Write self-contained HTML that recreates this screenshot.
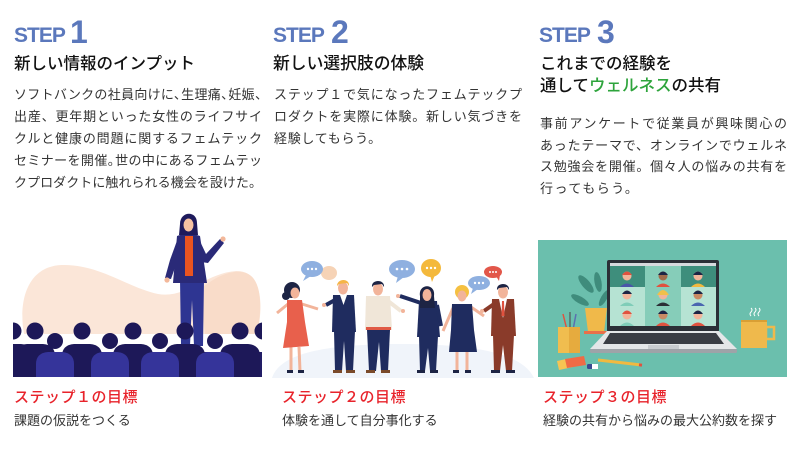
<!DOCTYPE html>
<html><head><meta charset="utf-8">
<style>
html,body{margin:0;padding:0;background:#fff;}
body{width:800px;height:457px;position:relative;overflow:hidden;font-family:"Liberation Sans","Noto Sans CJK JP",sans-serif;}
.a{position:absolute;white-space:nowrap;}
.step{color:#5b78bc;font-weight:bold;line-height:1;font-family:"Liberation Sans",sans-serif;}
.st{font-size:21px;letter-spacing:-1px;}
.num{font-size:32px;}
.h{font-size:16.5px;line-height:22px;color:#111;font-weight:500;}
.b{font-size:13px;line-height:22px;color:#333;}
.b div{white-space:nowrap;}
.j{text-align:justify;text-align-last:justify;}
.c{margin-right:-6px}
.r{font-size:15px;color:#e8232b;line-height:20px;letter-spacing:0.5px;font-weight:500;}
.s{font-size:13px;color:#333;line-height:20px;}
.g{color:#2ea43c}
</style></head>
<body>
<svg width="800" height="457" style="position:absolute;left:0;top:0">
<defs><clipPath id="c1"><rect x="13" y="200" width="249" height="177"/></clipPath></defs>
<!-- IMAGE 1 -->
<path d="M24 334 C18 300 28 266 62 265 C100 264 128 288 158 294 C186 299 206 273 236 271 C262 270 264 305 257 334 Z" fill="#fbe6d8"/>
<path d="M200 290 C215 276 230 271 240 272 C262 272 263 305 257 334 L205 334 Z" fill="#f9dcc9"/>
<!-- speaker -->
<path d="M180 279 L204 279 L203 346 L194 346 L192 300 L190 346 L181 346 Z" fill="#2e3592"/>
<path d="M177 236 Q188 232 200 236 L207 283 L173 283 Z" fill="#2a2a78"/>
<rect x="185" y="236" width="8" height="40" fill="#ea5420"/>
<path d="M198 237 L206 254 L220 239 L224 243 L208 263 L201 262 Z" fill="#2a2a78"/>
<circle cx="223" cy="239" r="2.6" fill="#f3b89a"/>
<path d="M178 238 L170 260 L165 278 L171 279 L177 262 L183 245 Z" fill="#2a2a78"/>
<circle cx="167" cy="280" r="2.6" fill="#f3b89a"/>
<path d="M180 224 C180 211 197 210 197 223 L198 235 L179 235 Z" fill="#1e1a5c"/>
<ellipse cx="188.5" cy="225" rx="5" ry="6.5" fill="#f6c2a2"/>
<!-- crowd -->
<g clip-path="url(#c1)">
<rect x="13" y="352" width="249" height="25" fill="#221d66"/>
<g fill="#1d1858">
<circle cx="13" cy="331" r="8.5"/><path d="M-7 377 L-7 356 Q-7 345 5 344 L21 344 Q33 345 33 356 L33 377 Z"/>
<circle cx="35" cy="331" r="8.5"/><path d="M15 377 L15 356 Q15 345 27 344 L43 344 Q55 345 55 356 L55 377 Z"/>
<circle cx="82" cy="331" r="8.5"/><path d="M62 377 L62 356 Q62 345 74 344 L90 344 Q102 345 102 356 L102 377 Z"/>
<circle cx="133" cy="331" r="8.5"/><path d="M113 377 L113 356 Q113 345 125 344 L141 344 Q153 345 153 356 L153 377 Z"/>
<circle cx="185" cy="331" r="8.5"/><path d="M165 377 L165 356 Q165 345 177 344 L193 344 Q205 345 205 356 L205 377 Z"/>
<circle cx="240" cy="331" r="8.5"/><path d="M220 377 L220 356 Q220 345 232 344 L248 344 Q260 345 260 356 L260 377 Z"/>
<circle cx="263" cy="331" r="8.5"/>
</g>
<g fill="#1d1858">
<circle cx="55" cy="341" r="8"/><circle cx="110" cy="341" r="8"/><circle cx="160" cy="341" r="8"/><circle cx="215" cy="341" r="8"/>
</g>
<g fill="#35349a">
<path d="M36 377 L36 364 Q36 353 48 352 L62 352 Q74 353 74 364 L74 377 Z"/>
<path d="M91 377 L91 364 Q91 353 103 352 L117 352 Q129 353 129 364 L129 377 Z"/>
<path d="M141 377 L141 364 Q141 353 153 352 L167 352 Q179 353 179 364 L179 377 Z"/>
<path d="M196 377 L196 364 Q196 353 208 352 L222 352 Q234 353 234 364 L234 377 Z"/>
</g>
</g>

<!-- IMAGE 2 -->
<path d="M272 378 C280 352 330 344 400 344 C470 344 522 352 534 378 Z" fill="#f0f4fa"/>
<g>
<ellipse cx="329" cy="273" rx="8" ry="7" fill="#f6d3b6"/>
<ellipse cx="312" cy="269" rx="11" ry="8" fill="#8fb0e0"/><path d="M306 275 L303 281 L311 276 Z" fill="#8fb0e0"/>
<ellipse cx="402" cy="269" rx="13" ry="9" fill="#8fb0e0"/><path d="M398 276 L396 283 L404 277 Z" fill="#8fb0e0"/>
<ellipse cx="431" cy="268" rx="10" ry="9" fill="#f4b93c"/><path d="M430 275 L432 282 L435 275 Z" fill="#f4b93c"/>
<ellipse cx="493" cy="272" rx="9" ry="6" fill="#e2574a"/><path d="M496 276 L499 281 L500 275 Z" fill="#e2574a"/>
<ellipse cx="479" cy="283" rx="11" ry="7" fill="#8fb0e0"/><path d="M473 288 L471 294 L478 289 Z" fill="#8fb0e0"/>
<g fill="#fff">
<circle cx="308" cy="269" r="1.2"/><circle cx="312" cy="269" r="1.2"/><circle cx="316" cy="269" r="1.2"/>
<circle cx="397" cy="269" r="1.3"/><circle cx="402" cy="269" r="1.3"/><circle cx="407" cy="269" r="1.3"/>
<circle cx="427" cy="268" r="1.2"/><circle cx="431" cy="268" r="1.2"/><circle cx="435" cy="268" r="1.2"/>
<circle cx="490" cy="272" r="1"/><circle cx="493" cy="272" r="1"/><circle cx="496" cy="272" r="1"/>
<circle cx="475" cy="283" r="1.2"/><circle cx="479" cy="283" r="1.2"/><circle cx="483" cy="283" r="1.2"/>
</g>
</g>
<!-- P1 -->
<g>
<line x1="291" y1="347" x2="291" y2="371" stroke="#f2b49a" stroke-width="3"/>
<line x1="299" y1="347" x2="300" y2="371" stroke="#f2b49a" stroke-width="3"/>
<rect x="287" y="370" width="6" height="3" fill="#1d2444"/><rect x="298" y="370" width="6" height="3" fill="#1d2444"/>
<line x1="288" y1="304" x2="277" y2="313" stroke="#f2b49a" stroke-width="3"/>
<line x1="302" y1="304" x2="318" y2="309" stroke="#f2b49a" stroke-width="3"/>
<path d="M287 300 L302 300 L305 322 L309 346 L283 348 L287 322 Z" fill="#e8604c"/>
<circle cx="292" cy="290" r="8" fill="#1d2444"/><circle cx="286" cy="296" r="4" fill="#1d2444"/>
<ellipse cx="295" cy="293" rx="4.5" ry="5.5" fill="#f2b49a"/>
</g>
<!-- P2 -->
<g>
<path d="M334 331 L355 331 L353 371 L346 371 L344 341 L342 371 L335 371 Z" fill="#1f2c5f"/>
<rect x="333" y="370" width="9" height="3" fill="#7a4a2a"/><rect x="346" y="370" width="9" height="3" fill="#7a4a2a"/>
<path d="M333 295 L354 295 L356 332 L332 332 Z" fill="#1f2c5f"/>
<path d="M340 295 L347 295 L343.5 305 Z" fill="#fff"/>
<line x1="335" y1="300" x2="326" y2="305" stroke="#1f2c5f" stroke-width="4"/>
<circle cx="324" cy="305" r="2" fill="#f2b49a"/>
<ellipse cx="343" cy="288" rx="5" ry="6.5" fill="#f2b49a"/>
<path d="M337 286 C337 278 350 278 349 286 L347 283 L339 284 Z" fill="#f5b547"/>
</g>
<!-- P3 -->
<g>
<path d="M367 330 L390 330 L388 371 L381 371 L379 342 L376 371 L369 371 Z" fill="#1f2c5f"/>
<rect x="366" y="370" width="9" height="3" fill="#7a4a2a"/><rect x="381" y="370" width="9" height="3" fill="#7a4a2a"/>
<line x1="388" y1="301" x2="401" y2="311" stroke="#f0e6d8" stroke-width="4"/>
<circle cx="403" cy="311" r="2" fill="#f2b49a"/>
<path d="M366 296 L390 296 L392 330 L365 330 Z" fill="#f0e6d8"/>
<rect x="366" y="327" width="25" height="3" fill="#e05a45"/>
<ellipse cx="378" cy="289" rx="5" ry="6.5" fill="#f2b49a"/>
<path d="M372 287 C371 279 385 279 384 287 L382 284 L374 285 Z" fill="#1d2444"/>
</g>
<!-- P4 -->
<g>
<path d="M419 336 L438 336 L436 371 L430 371 L428 348 L425 371 L420 371 Z" fill="#1f2c5f"/>
<rect x="417" y="370" width="8" height="3" fill="#1d2444"/><rect x="430" y="370" width="8" height="3" fill="#1d2444"/>
<line x1="421" y1="303" x2="400" y2="296" stroke="#1f2c5f" stroke-width="4"/>
<circle cx="398" cy="296" r="2" fill="#f2b49a"/>
<path d="M419 301 L437 301 L440 337 L417 337 Z" fill="#1f2c5f"/>
<line x1="437" y1="305" x2="441" y2="326" stroke="#1f2c5f" stroke-width="4"/>
<path d="M420 296 C418 283 436 283 434 296 L435 308 L420 308 Z" fill="#1d2444"/>
<ellipse cx="427" cy="295" rx="4.5" ry="6" fill="#f2b49a"/>
</g>
<!-- P5 -->
<g>
<line x1="457" y1="351" x2="457" y2="371" stroke="#f2b49a" stroke-width="3"/>
<line x1="467" y1="351" x2="467" y2="371" stroke="#f2b49a" stroke-width="3"/>
<rect x="453" y="370" width="6" height="3" fill="#1d2444"/><rect x="465" y="370" width="6" height="3" fill="#1d2444"/>
<line x1="453" y1="308" x2="443" y2="331" stroke="#f2b49a" stroke-width="3"/>
<line x1="471" y1="307" x2="484" y2="316" stroke="#f2b49a" stroke-width="3"/>
<path d="M452 304 L472 304 L474 330 L477 352 L449 352 L451 330 Z" fill="#1f2c5f"/>
<circle cx="462" cy="292" r="7" fill="#f5c041"/>
<ellipse cx="462" cy="296" rx="4.5" ry="5.5" fill="#f2b49a"/>
</g>
<!-- P6 -->
<g>
<path d="M493 335 L514 335 L512 371 L506 371 L503 345 L500 371 L494 371 Z" fill="#8a3b2a"/>
<rect x="491" y="370" width="9" height="3" fill="#1d2444"/><rect x="506" y="370" width="9" height="3" fill="#1d2444"/>
<path d="M492 299 L514 299 L516 336 L491 336 Z" fill="#8a3b2a"/>
<path d="M499 299 L507 299 L503 318 Z" fill="#fff"/>
<path d="M502 301 L504 301 L504.5 316 L501.5 316 Z" fill="#e0523f"/>
<line x1="494" y1="304" x2="484" y2="311" stroke="#8a3b2a" stroke-width="4"/>
<circle cx="482" cy="311" r="2" fill="#f2b49a"/>
<ellipse cx="503" cy="292" rx="5" ry="6.5" fill="#f2b49a"/>
<path d="M497 290 C496 282 510 282 509 290 L507 287 L499 288 Z" fill="#1d2444"/>
</g>

<!-- IMAGE 3 -->
<rect x="538" y="240" width="249" height="137" fill="#6bbfad"/>
<g fill="#3f8c7c">
<ellipse cx="586" cy="284" rx="4" ry="11" transform="rotate(-40 586 284)"/>
<ellipse cx="580" cy="300" rx="3.5" ry="10" transform="rotate(-60 580 300)"/>
<ellipse cx="598" cy="282" rx="3.5" ry="10" transform="rotate(-10 598 282)"/>
<ellipse cx="604" cy="298" rx="3" ry="9" transform="rotate(30 604 298)"/>
</g>
<path d="M585 308 L607 308 L604 332 L588 332 Z" fill="#f0b94a"/>
<rect x="584" y="331" width="24" height="3" fill="#e8704a"/>
<line x1="563" y1="314" x2="567" y2="330" stroke="#e0523f" stroke-width="1.5"/>
<line x1="570" y1="312" x2="570" y2="330" stroke="#555" stroke-width="1.2"/>
<line x1="576" y1="314" x2="573" y2="330" stroke="#5b6fb0" stroke-width="1.5"/>
<path d="M558 327 L580 327 L580 353 L558 353 Z" fill="#f0bd4f"/>
<path d="M569 327 L580 327 L580 353 L569 353 Z" fill="#e6ab3e"/>
<rect x="607" y="260" width="112" height="72" rx="2" fill="#2b2f36"/>
<rect x="610" y="263" width="106" height="3" fill="#d6dadd"/>
<rect x="610" y="266" width="35" height="21" fill="#3e8e7c"/>
<rect x="645" y="266" width="36" height="21" fill="#86cdb9"/>
<rect x="681" y="266" width="35" height="21" fill="#3e8e7c"/>
<rect x="610" y="287" width="35" height="19" fill="#b6e3d3"/>
<rect x="645" y="287" width="36" height="19" fill="#86cdb9"/>
<rect x="681" y="287" width="35" height="19" fill="#b6e3d3"/>
<rect x="610" y="306" width="35" height="20" fill="#b6e3d3"/>
<rect x="645" y="306" width="36" height="20" fill="#86cdb9"/>
<rect x="681" y="306" width="35" height="20" fill="#b6e3d3"/>
<g>
<path d="M620 287 Q627 280 634 287 Z" fill="#4a55a8"/><circle cx="627" cy="276" r="4.5" fill="#f2b49a"/><path d="M622 275 Q627 268 632 275 Z" fill="#e0523f"/>
<path d="M656 287 Q663 280 670 287 Z" fill="#e0523f"/><circle cx="663" cy="276" r="4.5" fill="#a06a4a"/><path d="M658 275 Q663 268 668 275 Z" fill="#1d2444"/>
<path d="M691 287 Q698 280 705 287 Z" fill="#f1b93f"/><circle cx="698" cy="276" r="4.5" fill="#f2b49a"/><path d="M693 275 Q698 268 703 275 Z" fill="#1d2444"/>
<path d="M620 306 Q627 299 634 306 Z" fill="#7fcdb8"/><circle cx="627" cy="295" r="4.5" fill="#f2b49a"/><path d="M622 294 Q627 287 632 294 Z" fill="#1d2444"/>
<path d="M656 306 Q663 299 670 306 Z" fill="#2b2f36"/><circle cx="663" cy="295" r="4.5" fill="#f2b49a"/><path d="M657 295 Q663 285 669 295 Z" fill="#f1c04a"/>
<path d="M691 306 Q698 299 705 306 Z" fill="#4a66b0"/><circle cx="698" cy="295" r="4.5" fill="#c98a64"/><path d="M693 294 Q698 287 703 294 Z" fill="#1d2444"/>
<path d="M620 326 Q627 319 634 326 Z" fill="#7fcdb8"/><circle cx="627" cy="315" r="4.5" fill="#f2b49a"/><path d="M622 314 Q627 307 632 314 Z" fill="#e0523f"/>
<path d="M656 326 Q663 319 670 326 Z" fill="#e0523f"/><circle cx="663" cy="315" r="4.5" fill="#c98a64"/><path d="M658 314 Q663 307 668 314 Z" fill="#1d2444"/>
<path d="M691 326 Q698 319 705 326 Z" fill="#e0523f"/><circle cx="698" cy="315" r="4.5" fill="#f2b49a"/><path d="M693 314 Q698 307 703 314 Z" fill="#1d2444"/>
</g>
<path d="M607 331 L719 331 L737 349 L590 349 Z" fill="#e4e6e8"/>
<path d="M610 333 L716 333 L724 344 L603 344 Z" fill="#3a3d44"/>
<rect x="648" y="345" width="31" height="4" fill="#c9ccd0"/>
<rect x="590" y="349" width="147" height="4" rx="1.5" fill="#9ea3a8"/>
<rect x="766" y="327" width="8" height="12" fill="none" stroke="#efb94c" stroke-width="2.5"/>
<path d="M741 321 L767 321 L767 348 L741 348 Z" fill="#efb94c"/>
<path d="M741 321 L767 321" stroke="#d99f34" stroke-width="2"/>
<g stroke="#fff" stroke-width="1" fill="none">
<path d="M751 308 q2 2 0 4 q-2 2 0 4"/><path d="M755 308 q2 2 0 4 q-2 2 0 4"/><path d="M759 308 q2 2 0 4 q-2 2 0 4"/>
</g>
<path d="M557 361 L571 358 L573 367 L559 370 Z" fill="#f6c453"/>
<path d="M565 359 L584 356 L586 365 L567 368 Z" fill="#ef6b45"/>
<line x1="598" y1="360" x2="641" y2="365" stroke="#f1b93f" stroke-width="3"/>
<line x1="639" y1="364.8" x2="642" y2="365.2" stroke="#e0523f" stroke-width="3"/>
<rect x="587" y="364" width="11" height="5" rx="1.5" fill="#3a4a90"/>
<rect x="592" y="364" width="6" height="5" fill="#fff"/>
</svg>

<div class="a step st" style="left:14px;top:25px;">STEP</div>
<div class="a step num" style="left:70px;top:16px;">1</div>
<div class="a step st" style="left:273px;top:25px;">STEP</div>
<div class="a step num" style="left:331px;top:16px;">2</div>
<div class="a step st" style="left:539px;top:25px;">STEP</div>
<div class="a step num" style="left:597px;top:16px;">3</div>

<div class="a h" style="left:14px;top:53px;">新しい情報のインプット</div>
<div class="a h" style="left:273px;top:53px;font-size:16.8px;">新しい選択肢の体験</div>
<div class="a h" style="left:540px;top:53px;">これまでの経験を<br>通して<span class="g">ウェルネス</span>の共有</div>

<div class="a b" style="left:14px;top:84px;width:248px;white-space:normal;">
<div class="j">ソフトバンクの社員向けに<span class="c">、</span>生理痛<span class="c">、</span>妊娠<span class="c">、</span></div>
<div class="j">出産、更年期といった女性のライフサイ</div>
<div class="j">クルと健康の問題に関するフェムテック</div>
<div class="j">セミナーを開催<span class="c">。</span>世の中にあるフェムテッ</div>
<div class="j">クプロダクトに触れられる機会を設けた。</div>
</div>

<div class="a b" style="left:274px;top:84px;width:248px;white-space:normal;">
<div class="j">ステップ１で気になったフェムテックプ</div>
<div class="j">ロダクトを実際に体験。新しい気づきを</div>
<div style="letter-spacing:0.7px">経験してもらう。</div>
</div>

<div class="a b" style="left:540px;top:113px;width:247px;white-space:normal;line-height:21.5px;">
<div class="j">事前アンケートで従業員が興味関心の</div>
<div class="j">あったテーマで、オンラインでウェルネ</div>
<div class="j">ス勉強会を開催。個々人の悩みの共有を</div>
<div style="letter-spacing:1.5px">行ってもらう。</div>
</div>

<div class="a r" style="left:14px;top:388px;">ステップ１の目標</div>
<div class="a s" style="left:14px;top:411px;">課題の仮説をつくる</div>
<div class="a r" style="left:282px;top:388px;">ステップ２の目標</div>
<div class="a s" style="left:282px;top:411px;">体験を通して自分事化する</div>
<div class="a r" style="left:543px;top:388px;">ステップ３の目標</div>
<div class="a s" style="left:543px;top:411px;">経験の共有から悩みの最大公約数を探す</div>
</body></html>
